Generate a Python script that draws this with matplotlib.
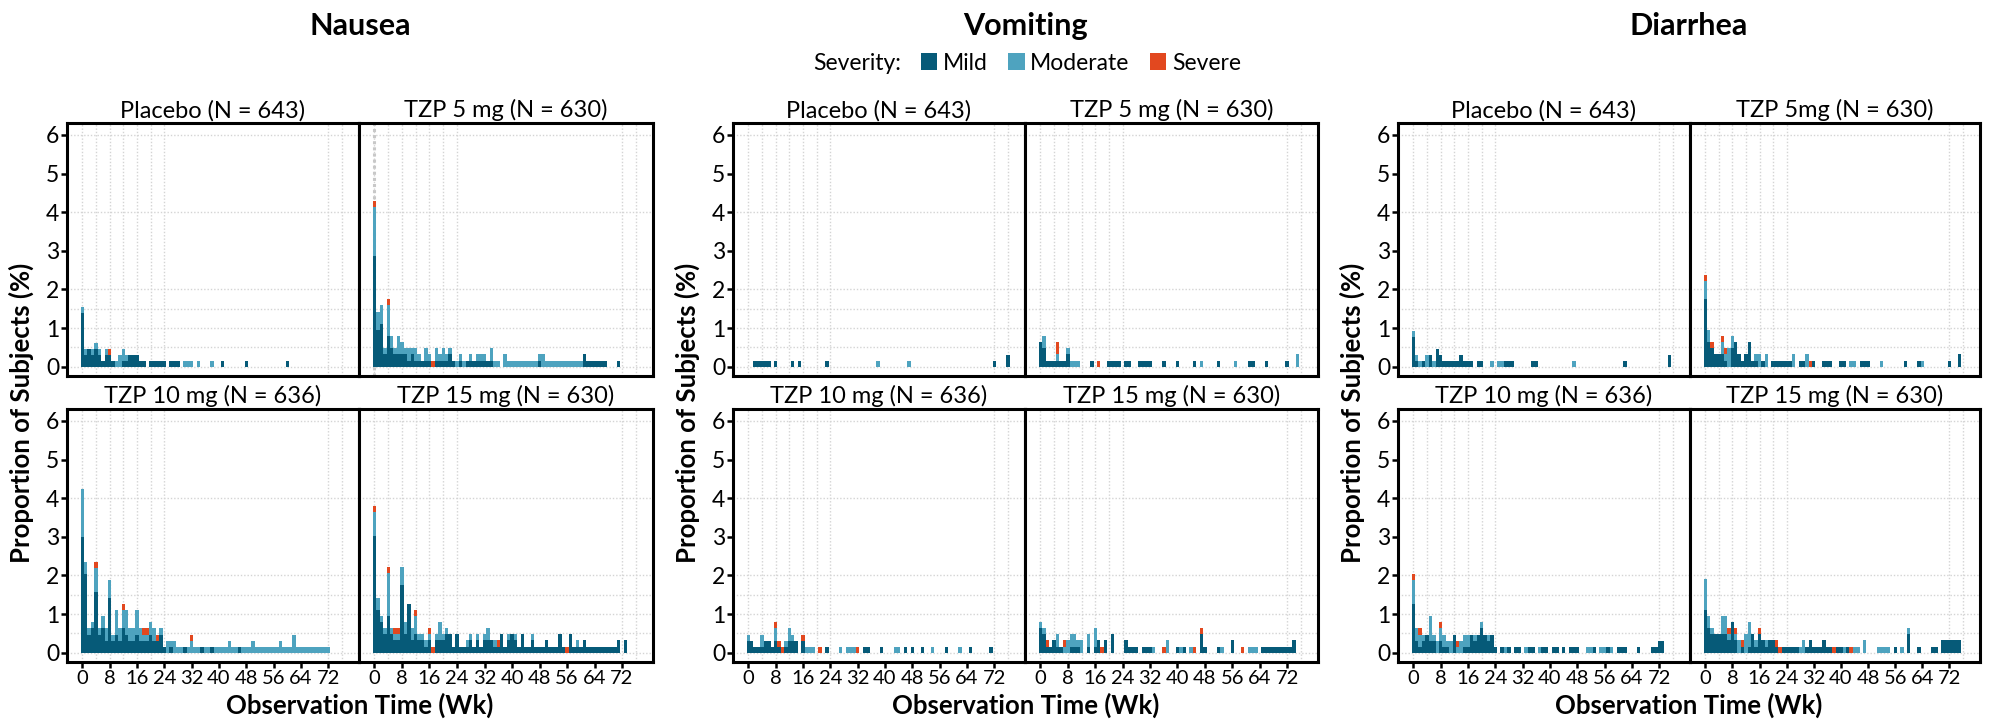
import matplotlib
matplotlib.use("Agg")
import matplotlib.pyplot as plt
from matplotlib.patches import Patch
import numpy as np

plt.rcParams["font.family"] = ["Lato", "DejaVu Sans"]

# ---- data: subjects with an event per observation week (counts), by severity ----
WEEKS = np.arange(77)
ARM_N = [643, 630, 636, 630]
ARMS = ["Placebo (N = 643)", "TZP 5 mg (N = 630)", "TZP 10 mg (N = 636)", "TZP 15 mg (N = 630)"]
ARMS_DIARRHEA = ["Placebo (N = 643)", "TZP 5mg (N = 630)", "TZP 10 mg (N = 636)", "TZP 15 mg (N = 630)"]

# Nausea
NAU_PBO_MILD = [9, 2, 3, 2, 3, 2, 1, 2, 2, 1, 0, 0, 1, 1, 2, 2, 2, 1, 1, 0,
                1, 1, 1, 1, 1, 0, 1, 1, 1, 0, 0, 0, 0, 0, 0, 0, 0, 0, 0, 0,
                0, 1, 0, 0, 0, 0, 0, 0, 1, 0, 0, 0, 0, 0, 0, 0, 0, 0, 0, 0,
                1]
NAU_PBO_MOD = [1, 1, 0, 1, 1, 1, 0, 1, 0, 0, 1, 2, 2, 1, 0, 0, 0, 0, 0, 0,
               0, 0, 0, 0, 0, 0, 0, 0, 0, 0, 1, 1, 1, 0, 1, 0, 0, 0, 1]
NAU_PBO_SEV = [0, 0, 0, 0, 0, 0, 0, 0, 1]

NAU_5_MILD = [18, 6, 7, 2, 5, 3, 2, 2, 2, 2, 1, 2, 1, 1, 1, 1, 1, 0, 1, 1,
              1, 1, 2, 1, 0, 1, 0, 1, 1, 1, 1, 1, 1, 1, 1, 0, 0, 0, 0, 0,
              0, 0, 0, 0, 0, 0, 0, 0, 1, 0, 0, 0, 0, 0, 0, 0, 0, 0, 0, 0,
              0, 2, 1, 1, 1, 1, 1, 1, 0, 0, 0, 1]
NAU_5_MOD = [8, 3, 3, 1, 5, 2, 1, 3, 2, 1, 2, 1, 2, 1, 0, 2, 1, 0, 2, 1,
             2, 1, 1, 0, 1, 1, 1, 0, 1, 0, 1, 1, 1, 0, 2, 1, 1, 0, 2, 1,
             1, 1, 1, 1, 1, 1, 1, 1, 1, 2, 1, 1, 1, 1, 1, 1, 1, 1, 1, 1,
             1]
NAU_5_SEV = [1, 0, 0, 0, 1, 0, 0, 0, 0, 0, 0, 0, 0, 0, 0, 0, 0, 1]

NAU_10_MILD = [19, 13, 3, 4, 10, 3, 4, 2, 9, 2, 3, 2, 4, 3, 2, 2, 3, 2, 2, 2,
               3, 2, 2, 3, 1, 0, 1, 0, 0, 0, 1, 0, 0, 0, 0, 1, 0, 0, 1, 0,
               0, 0, 0, 0, 0, 0, 1]
NAU_10_MOD = [8, 2, 1, 1, 4, 1, 2, 2, 3, 1, 4, 2, 3, 4, 2, 2, 4, 2, 1, 1,
              2, 2, 0, 1, 0, 2, 1, 2, 1, 1, 0, 1, 2, 1, 1, 0, 1, 1, 0, 1,
              1, 1, 1, 2, 1, 1, 0, 1, 1, 1, 2, 1, 1, 1, 1, 1, 1, 1, 2, 1,
              1, 1, 3, 1, 1, 1, 1, 1, 1, 1, 1, 1, 1]
NAU_10_SEV = [0, 0, 0, 0, 1, 0, 0, 0, 0, 0, 0, 0, 1, 0, 0, 0, 0, 0, 1, 1,
              0, 0, 1, 0, 0, 0, 0, 0, 0, 0, 0, 0, 1]

NAU_15_MILD = [19, 7, 5, 3, 6, 3, 2, 2, 11, 3, 8, 2, 3, 2, 2, 1, 2, 0, 2, 2,
               2, 3, 3, 1, 3, 1, 1, 1, 2, 1, 2, 1, 2, 2, 2, 1, 1, 3, 1, 2,
               3, 2, 1, 3, 1, 1, 2, 1, 1, 1, 2, 1, 1, 1, 3, 1, 0, 3, 1, 1,
               1, 2, 1, 1, 1, 1, 1, 1, 1, 1, 1, 2, 0, 2]
NAU_15_MOD = [4, 2, 1, 1, 7, 1, 1, 1, 3, 2, 0, 2, 3, 1, 1, 1, 1, 0, 1, 3,
              1, 1, 0, 0, 0, 0, 0, 1, 1, 0, 1, 0, 1, 2, 0, 1, 0, 0, 0, 1,
              0, 1, 0, 0, 0, 0, 1, 0, 0, 0, 0, 0, 0, 0, 0, 0, 0, 0, 0, 1]
NAU_15_SEV = [1, 0, 0, 0, 1, 0, 1, 1, 0, 0, 0, 0, 1, 0, 0, 0, 1, 1, 0, 0,
              0, 0, 0, 0, 0, 0, 0, 0, 0, 0, 0, 0, 0, 0, 0, 0, 1, 0, 0, 0,
              0, 0, 0, 0, 0, 0, 0, 0, 0, 0, 0, 0, 0, 0, 0, 0, 1]

# Vomiting
VOM_PBO_MILD = [0, 0, 1, 1, 1, 1, 1, 0, 1, 0, 0, 0, 0, 1, 0, 1, 0, 0, 0, 0,
                0, 0, 0, 1, 0, 0, 0, 0, 0, 0, 0, 0, 0, 0, 0, 0, 0, 0, 0, 0,
                0, 0, 0, 0, 0, 0, 0, 0, 0, 0, 0, 0, 0, 0, 0, 0, 0, 0, 0, 0,
                0, 0, 0, 0, 0, 0, 0, 0, 0, 0, 0, 0, 1, 0, 0, 0, 2]
VOM_PBO_MOD = [0, 0, 0, 0, 0, 0, 0, 0, 0, 0, 0, 0, 0, 0, 0, 0, 0, 0, 0, 0,
               0, 0, 0, 0, 0, 0, 0, 0, 0, 0, 0, 0, 0, 0, 0, 0, 0, 0, 1, 0,
               0, 0, 0, 0, 0, 0, 0, 1]
VOM_PBO_SEV = []

VOM_5_MILD = [4, 3, 1, 1, 1, 1, 1, 1, 2, 0, 0, 0, 0, 0, 0, 1, 0, 0, 0, 0,
              1, 1, 1, 1, 0, 1, 1, 0, 0, 1, 1, 1, 1, 0, 0, 0, 1, 0, 0, 0,
              1, 0, 0, 0, 0, 1, 0, 0, 0, 0, 0, 0, 1, 0, 0, 0, 0, 0, 0, 0,
              0, 1, 1, 0, 0, 0, 1, 0, 0, 0, 0, 0, 1]
VOM_5_MOD = [0, 2, 0, 0, 0, 1, 0, 0, 1, 1, 1, 1, 0, 0, 0, 0, 0, 0, 0, 0,
             0, 0, 0, 0, 0, 0, 0, 0, 0, 0, 0, 0, 0, 0, 0, 0, 0, 0, 0, 0,
             0, 0, 0, 0, 0, 0, 0, 1, 0, 0, 0, 0, 0, 0, 0, 0, 0, 1, 0, 0,
             0, 0, 0, 0, 0, 0, 0, 0, 0, 0, 0, 0, 0, 0, 0, 2]
VOM_5_SEV = [0, 0, 0, 0, 0, 2, 0, 0, 0, 0, 0, 0, 0, 0, 0, 0, 0, 1]

VOM_10_MILD = [2, 2, 1, 1, 1, 2, 2, 1, 2, 1, 0, 1, 2, 2, 2, 0, 2, 0, 0, 0,
               0, 0, 0, 1, 0, 0, 0, 0, 0, 0, 0, 0, 0, 0, 1, 1, 0, 0, 0, 1,
               0, 0, 0, 0, 0, 0, 1, 0, 1, 0, 0, 1, 0, 0, 0, 0, 0, 0, 1, 0,
               0, 0, 0, 0, 0, 1, 0, 0, 0, 0, 0, 1]
VOM_10_MOD = [1, 0, 0, 0, 2, 0, 0, 0, 2, 0, 0, 1, 2, 1, 0, 0, 0, 1, 1, 1,
              0, 0, 0, 0, 0, 0, 0, 1, 0, 1, 1, 1, 0, 0, 0, 0, 0, 0, 0, 0,
              0, 0, 0, 1, 1, 0, 0, 0, 0, 0, 0, 0, 0, 0, 1, 0, 0, 0, 0, 0,
              0, 0, 1]
VOM_10_SEV = [0, 0, 0, 0, 0, 0, 0, 0, 1, 1, 1, 0, 0, 0, 0, 0, 1, 0, 0, 0,
              0, 1, 0, 0, 0, 0, 0, 0, 0, 0, 0, 0, 1]

VOM_15_MILD = [4, 3, 1, 1, 2, 1, 1, 0, 0, 1, 1, 1, 0, 0, 1, 0, 1, 2, 0, 2,
               0, 3, 0, 0, 0, 2, 1, 1, 1, 0, 1, 1, 1, 0, 0, 0, 0, 0, 0, 0,
               1, 0, 1, 0, 0, 0, 0, 3, 1, 0, 0, 0, 1, 0, 0, 0, 2, 0, 0, 0,
               0, 0, 0, 0, 0, 1, 1, 1, 1, 1, 1, 1, 1, 1, 2]
VOM_15_MOD = [1, 1, 0, 0, 0, 2, 0, 1, 2, 2, 2, 1, 2, 0, 2, 0, 3, 0, 0, 0,
              0, 0, 0, 0, 0, 0, 0, 0, 0, 0, 0, 0, 0, 1, 0, 0, 0, 2, 0, 0,
              0, 1, 0, 0, 1, 0, 0, 0, 0, 0, 0, 0, 0, 1, 0, 0, 0, 0, 0, 0,
              0, 1, 1, 1]
VOM_15_SEV = [0, 0, 1, 0, 0, 0, 0, 1, 0, 0, 0, 0, 0, 0, 0, 0, 0, 0, 1, 0,
              0, 0, 0, 0, 0, 0, 0, 0, 0, 0, 0, 0, 0, 0, 0, 0, 1, 0, 0, 0,
              0, 0, 0, 0, 0, 1, 0, 1, 0, 0, 0, 0, 0, 0, 0, 0, 0, 0, 0, 1]

# Diarrhea
DIA_PBO_MILD = [5, 1, 0, 1, 0, 2, 0, 3, 2, 1, 1, 1, 1, 1, 2, 1, 1, 1, 0, 1,
                1, 0, 0, 0, 0, 0, 0, 1, 1, 1, 0, 0, 0, 0, 0, 1, 1, 0, 0, 0,
                0, 0, 0, 0, 0, 0, 0, 0, 0, 0, 0, 0, 0, 0, 0, 0, 0, 0, 0, 0,
                0, 0, 1, 0, 0, 0, 0, 0, 0, 0, 0, 0, 0, 0, 0, 2]
DIA_PBO_MOD = [1, 1, 1, 0, 2, 0, 1, 0, 0, 0, 0, 0, 0, 0, 0, 0, 0, 0, 0, 0,
               0, 0, 0, 1, 0, 1, 1, 0, 0, 0, 0, 0, 0, 0, 0, 0, 0, 0, 0, 0,
               0, 0, 0, 0, 0, 0, 0, 1]
DIA_PBO_SEV = []

DIA_5_MILD = [11, 4, 3, 2, 2, 2, 1, 0, 3, 4, 2, 1, 2, 4, 1, 1, 0, 1, 0, 0,
              1, 1, 1, 1, 1, 1, 0, 0, 1, 1, 0, 0, 1, 0, 0, 1, 1, 1, 0, 0,
              1, 1, 0, 0, 0, 0, 1, 1, 1, 0, 0, 0, 0, 0, 0, 0, 0, 0, 0, 1,
              0, 0, 0, 1, 0, 0, 0, 0, 0, 0, 0, 0, 1, 0, 0, 2]
DIA_5_MOD = [3, 2, 0, 0, 0, 2, 1, 3, 2, 0, 0, 0, 0, 0, 0, 1, 2, 0, 2, 0,
             0, 0, 0, 0, 0, 0, 2, 0, 0, 0, 2, 0, 0, 0, 0, 0, 0, 0, 0, 0,
             0, 0, 0, 1, 1, 0, 0, 0, 0, 0, 0, 0, 1, 0, 0, 0, 0, 0, 0, 0,
             0, 0, 0, 0, 1]
DIA_5_SEV = [1, 0, 1, 0, 0, 1, 1, 0, 0, 0, 0, 0, 0, 0, 0, 0, 0, 0, 0, 0,
             0, 0, 0, 0, 0, 0, 0, 0, 0, 0, 0, 1]

DIA_10_MILD = [8, 2, 1, 2, 3, 2, 2, 0, 2, 1, 1, 0, 3, 0, 0, 1, 1, 3, 2, 3,
               4, 3, 2, 3, 1, 0, 1, 0, 1, 0, 1, 1, 0, 0, 1, 1, 0, 0, 1, 1,
               0, 1, 1, 0, 1, 0, 1, 1, 1, 0, 0, 0, 0, 1, 0, 0, 0, 1, 0, 0,
               1, 1, 1, 0, 0, 0, 1, 0, 0, 0, 1, 1, 2, 2]
DIA_10_MOD = [4, 2, 2, 1, 0, 4, 1, 2, 2, 2, 1, 2, 0, 1, 2, 2, 2, 0, 1, 0,
              1, 0, 1, 0, 0, 0, 0, 1, 0, 0, 0, 0, 0, 1, 0, 0, 0, 1, 0, 0,
              0, 0, 0, 0, 0, 0, 0, 0, 0, 0, 0, 1, 1, 0, 0, 1, 1, 0, 1]
DIA_10_SEV = [1, 0, 1, 0, 0, 0, 0, 0, 1, 0, 0, 0, 0, 1]

DIA_15_MILD = [7, 4, 3, 3, 3, 3, 3, 2, 5, 2, 0, 1, 0, 1, 3, 1, 3, 2, 1, 2,
               2, 1, 0, 1, 1, 1, 1, 1, 0, 0, 1, 2, 1, 1, 1, 2, 1, 1, 0, 1,
               1, 0, 1, 0, 0, 0, 0, 0, 0, 0, 0, 0, 0, 0, 0, 0, 1, 0, 0, 0,
               3, 0, 0, 1, 0, 0, 0, 1, 1, 0, 2, 2, 2, 2, 2, 2]
DIA_15_MOD = [5, 2, 1, 0, 0, 3, 3, 1, 0, 1, 2, 0, 3, 4, 0, 1, 0, 0, 1, 0,
              0, 0, 0, 0, 0, 0, 0, 0, 1, 2, 0, 0, 0, 0, 0, 0, 0, 0, 0, 0,
              0, 1, 0, 0, 1, 1, 0, 2, 0, 0, 0, 1, 1, 1, 1, 0, 0, 0, 1, 0,
              1]
DIA_15_SEV = [0, 0, 0, 0, 0, 0, 0, 1, 0, 1, 0, 1, 0, 0, 0, 0, 1, 0, 0, 0,
              0, 1, 1, 0, 0, 0, 0, 0, 0, 0, 0, 0, 0, 0, 0, 0, 0, 0, 1, 0,
              0, 0, 0, 1]

GROUPS = [
    ("Nausea", ARMS, [(NAU_PBO_MILD, NAU_PBO_MOD, NAU_PBO_SEV),
                      (NAU_5_MILD, NAU_5_MOD, NAU_5_SEV),
                      (NAU_10_MILD, NAU_10_MOD, NAU_10_SEV),
                      (NAU_15_MILD, NAU_15_MOD, NAU_15_SEV)]),
    ("Vomiting", ARMS, [(VOM_PBO_MILD, VOM_PBO_MOD, VOM_PBO_SEV),
                        (VOM_5_MILD, VOM_5_MOD, VOM_5_SEV),
                        (VOM_10_MILD, VOM_10_MOD, VOM_10_SEV),
                        (VOM_15_MILD, VOM_15_MOD, VOM_15_SEV)]),
    ("Diarrhea", ARMS_DIARRHEA, [(DIA_PBO_MILD, DIA_PBO_MOD, DIA_PBO_SEV),
                                 (DIA_5_MILD, DIA_5_MOD, DIA_5_SEV),
                                 (DIA_10_MILD, DIA_10_MOD, DIA_10_SEV),
                                 (DIA_15_MILD, DIA_15_MOD, DIA_15_SEV)]),
]

SEVERITY = ["Mild", "Moderate", "Severe"]
COLORS = ["#065a78", "#4ea3bf", "#e2481f"]
X_TICKS = [0, 8, 16, 24, 32, 40, 48, 56, 64, 72]
Y_TICKS = [0, 1, 2, 3, 4, 5, 6]
GRID_X = [0, 4, 8, 12, 16, 20, 24, 72, 76]
GRID_Y = [0, 0.5, 1, 1.5, 2, 4, 6]

# ---- layout (pixels) ----
W, H = 1993, 721
COL_EDGES = [(67, 359, 653), (733, 1025, 1318), (1398, 1690, 1980)]
ROWS = [(123, 376), (409, 662)]
GRID_KW = dict(color="#d4d4d4", lw=1.0, ls=(0, (1, 1.4)), zorder=0)

fig = plt.figure(figsize=(W / 100, H / 100), dpi=100)


def add_box(x0, y0, x1, y1):
    return fig.add_axes([x0 / W, 1 - y1 / H, (x1 - x0) / W, (y1 - y0) / H])


def pad(counts):
    out = np.zeros(len(WEEKS))
    out[:len(counts)] = counts
    return out


def draw_panel(ax, series, n, title, bottom_row, left_col):
    for g in GRID_X:
        ax.axvline(g, **GRID_KW)
    for g in GRID_Y:
        ax.axhline(g, **GRID_KW)
    base = np.zeros(len(WEEKS))
    for counts, color in zip(series, COLORS):
        pct = pad(counts) * 100.0 / n
        ax.bar(WEEKS, pct, bottom=base, width=1.0, color=color,
               linewidth=0, zorder=2)
        base = base + pct
    ax.set_xlim(-4.5, 81)
    ax.set_ylim(-0.24, 6.31)
    ax.set_xticks(X_TICKS)
    ax.set_yticks(Y_TICKS)
    ax.tick_params(axis="both", width=1.8, length=4, pad=1.5, colors="black")
    ax.tick_params(axis="y", labelsize=16.5)
    ax.tick_params(axis="x", labelsize=14.5)
    if not bottom_row:
        ax.tick_params(axis="x", length=0, labelbottom=False)
    if not left_col:
        ax.tick_params(axis="y", length=0, labelleft=False)
    for sp in ax.spines.values():
        sp.set_linewidth(2.2)
        sp.set_color("black")
    ax.set_title(title, fontsize=17, pad=4)


for (name, arm_titles, panels), (xa, xb, xc) in zip(GROUPS, COL_EDGES):
    for i, (series, n, title) in enumerate(zip(panels, ARM_N, arm_titles)):
        r, c = divmod(i, 2)
        y0, y1 = ROWS[r]
        x0, x1 = (xa, xb) if c == 0 else (xb, xc)
        ax = add_box(x0, y0, x1, y1)
        draw_panel(ax, series, n, title, r == 1, c == 0)
        if name == "Nausea" and i == 1:
            # emphasised start-of-treatment line
            ax.axvline(0, color="#c8c8c8", lw=2.2, ls=(0, (1, 1)), zorder=1)
    xc_mid = (xa + xc) / 2
    fig.text(xc_mid / W, 1 - 26 / H, name, ha="center", va="center",
             fontsize=22, fontweight="bold")
    fig.text(xc_mid / W, 1 - 705 / H, "Observation Time (Wk)", ha="center",
             va="center", fontsize=18.5, fontweight="bold")
    fig.text((xa - 46) / W, 1 - 413 / H, "Proportion of Subjects (%)",
             ha="center", va="center", rotation=90, fontsize=18.5,
             fontweight="bold")

# severity legend above the middle group
handles = [Patch(visible=False)] + [Patch(facecolor=c, edgecolor="none") for c in COLORS]
fig.legend(handles, ["Severity:"] + SEVERITY, ncol=4, loc="center",
           bbox_to_anchor=(1016 / W, 1 - 63 / H), frameon=False, fontsize=16.5,
           handlelength=0.7, handleheight=0.7, handletextpad=0.25,
           columnspacing=0.9, borderpad=0)

fig.savefig("out.png", dpi=100)
